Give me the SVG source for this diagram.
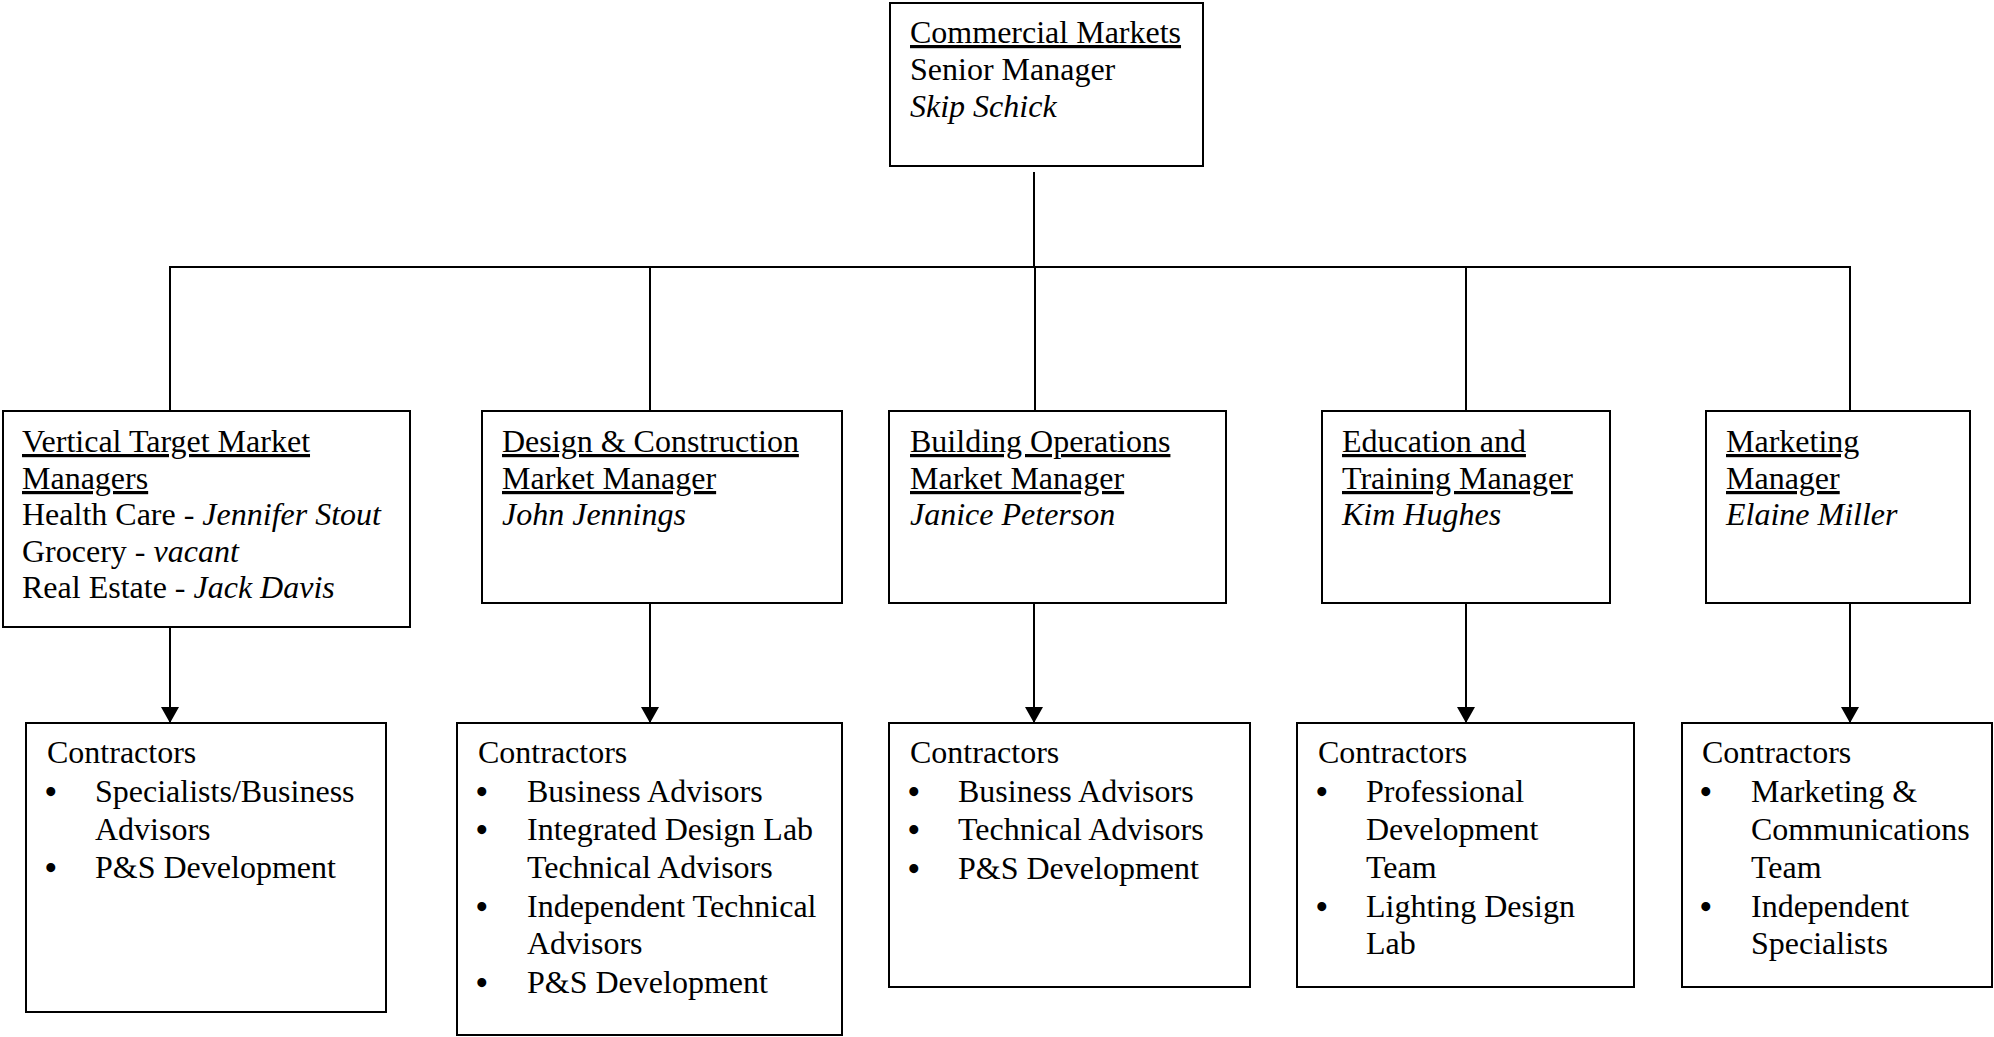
<svg xmlns="http://www.w3.org/2000/svg" width="1994" height="1037" viewBox="0 0 1994 1037">
<defs>
<style>
.box{fill:#fff;stroke:#000;stroke-width:2}
.t{font-family:"Liberation Serif","Times New Roman",serif;font-size:32px;fill:#000}
.b{font-family:"Liberation Serif","Times New Roman",serif;font-size:33px;font-weight:bold;fill:#000}
.u{text-decoration:underline}
.i{font-style:italic}
.ln{stroke:#000;stroke-width:2;fill:none}
</style>
<marker id="ah" viewBox="0 0 16 18" refX="16" refY="9" markerWidth="16" markerHeight="18" markerUnits="userSpaceOnUse" orient="auto">
<path d="M0,0 L16,9 L0,18 Z" fill="#000"/>
</marker>
</defs>
<rect width="1994" height="1037" fill="#fff"/>
<g id="connectors">
<line class="ln" x1="1034" y1="172" x2="1034" y2="267"/>
<line class="ln" x1="169" y1="267" x2="1851" y2="267" stroke-width="2.5"/>
<line class="ln" x1="170" y1="267" x2="170" y2="411"/>
<line class="ln" x1="650" y1="267" x2="650" y2="411"/>
<line class="ln" x1="1035" y1="267" x2="1035" y2="411"/>
<line class="ln" x1="1466" y1="267" x2="1466" y2="411"/>
<line class="ln" x1="1850" y1="267" x2="1850" y2="411"/>
<line class="ln" x1="170" y1="627" x2="170" y2="723" marker-end="url(#ah)"/>
<line class="ln" x1="650" y1="603" x2="650" y2="723" marker-end="url(#ah)"/>
<line class="ln" x1="1034" y1="603" x2="1034" y2="723" marker-end="url(#ah)"/>
<line class="ln" x1="1466" y1="603" x2="1466" y2="723" marker-end="url(#ah)"/>
<line class="ln" x1="1850" y1="603" x2="1850" y2="723" marker-end="url(#ah)"/>
</g>
<g id="senior">
<rect class="box" x="890" y="3" width="313" height="163"/>
<text class="t" x="910" y="43"><tspan class="u">Commercial Markets</tspan></text>
<text class="t" x="910" y="80">Senior Manager</text>
<text class="t i" x="910" y="117">Skip Schick</text>
</g>
<g id="vertical">
<rect class="box" x="3" y="411" width="407" height="216"/>
<text class="t" x="22" y="452"><tspan class="u">Vertical Target Market</tspan></text>
<text class="t" x="22" y="489"><tspan class="u">Managers</tspan></text>
<text class="t" x="22" y="525">Health Care - <tspan class="i">Jennifer Stout</tspan></text>
<text class="t" x="22" y="562">Grocery - <tspan class="i">vacant</tspan></text>
<text class="t" x="22" y="598">Real Estate - <tspan class="i">Jack Davis</tspan></text>
</g>
<g id="design">
<rect class="box" x="482" y="411" width="360" height="192"/>
<text class="t" x="502" y="452"><tspan class="u">Design &amp; Construction</tspan></text>
<text class="t" x="502" y="489"><tspan class="u">Market Manager</tspan></text>
<text class="t i" x="502" y="525">John Jennings</text>
</g>
<g id="building">
<rect class="box" x="889" y="411" width="337" height="192"/>
<text class="t" x="910" y="452"><tspan class="u">Building Operations</tspan></text>
<text class="t" x="910" y="489"><tspan class="u">Market Manager</tspan></text>
<text class="t i" x="910" y="525">Janice Peterson</text>
</g>
<g id="education">
<rect class="box" x="1322" y="411" width="288" height="192"/>
<text class="t" x="1342" y="452"><tspan class="u">Education and</tspan></text>
<text class="t" x="1342" y="489"><tspan class="u">Training Manager</tspan></text>
<text class="t i" x="1342" y="525">Kim Hughes</text>
</g>
<g id="marketing">
<rect class="box" x="1706" y="411" width="264" height="192"/>
<text class="t" x="1726" y="452"><tspan class="u">Marketing</tspan></text>
<text class="t" x="1726" y="489"><tspan class="u">Manager</tspan></text>
<text class="t i" x="1726" y="525">Elaine Miller</text>
</g>
<g id="contractors-vertical">
<rect class="box" x="26" y="723" width="360" height="289"/>
<text class="t" x="47" y="763">Contractors</text>
<text class="b" x="45" y="803">•</text><text class="t" x="95" y="802">Specialists/Business</text>
<text class="t" x="95" y="840">Advisors</text>
<text class="b" x="45" y="879">•</text><text class="t" x="95" y="878">P&amp;S Development</text>
</g>
<g id="contractors-design">
<rect class="box" x="457" y="723" width="385" height="312"/>
<text class="t" x="478" y="763">Contractors</text>
<text class="b" x="476" y="803">•</text><text class="t" x="527" y="802">Business Advisors</text>
<text class="b" x="476" y="841">•</text><text class="t" x="527" y="840">Integrated Design Lab</text>
<text class="t" x="527" y="878">Technical Advisors</text>
<text class="b" x="476" y="918">•</text><text class="t" x="527" y="917">Independent Technical</text>
<text class="t" x="527" y="954">Advisors</text>
<text class="b" x="476" y="994">•</text><text class="t" x="527" y="993">P&amp;S Development</text>
</g>
<g id="contractors-building">
<rect class="box" x="889" y="723" width="361" height="264"/>
<text class="t" x="910" y="763">Contractors</text>
<text class="b" x="908" y="803">•</text><text class="t" x="958" y="802">Business Advisors</text>
<text class="b" x="908" y="841">•</text><text class="t" x="958" y="840">Technical Advisors</text>
<text class="b" x="908" y="880">•</text><text class="t" x="958" y="879">P&amp;S Development</text>
</g>
<g id="contractors-education">
<rect class="box" x="1297" y="723" width="337" height="264"/>
<text class="t" x="1318" y="763">Contractors</text>
<text class="b" x="1316" y="803">•</text><text class="t" x="1366" y="802">Professional</text>
<text class="t" x="1366" y="840">Development</text>
<text class="t" x="1366" y="878">Team</text>
<text class="b" x="1316" y="918">•</text><text class="t" x="1366" y="917">Lighting Design</text>
<text class="t" x="1366" y="954">Lab</text>
</g>
<g id="contractors-marketing">
<rect class="box" x="1682" y="723" width="310" height="264"/>
<text class="t" x="1702" y="763">Contractors</text>
<text class="b" x="1700" y="803">•</text><text class="t" x="1751" y="802">Marketing &amp;</text>
<text class="t" x="1751" y="840">Communications</text>
<text class="t" x="1751" y="878">Team</text>
<text class="b" x="1700" y="918">•</text><text class="t" x="1751" y="917">Independent</text>
<text class="t" x="1751" y="954">Specialists</text>
</g>
</svg>
